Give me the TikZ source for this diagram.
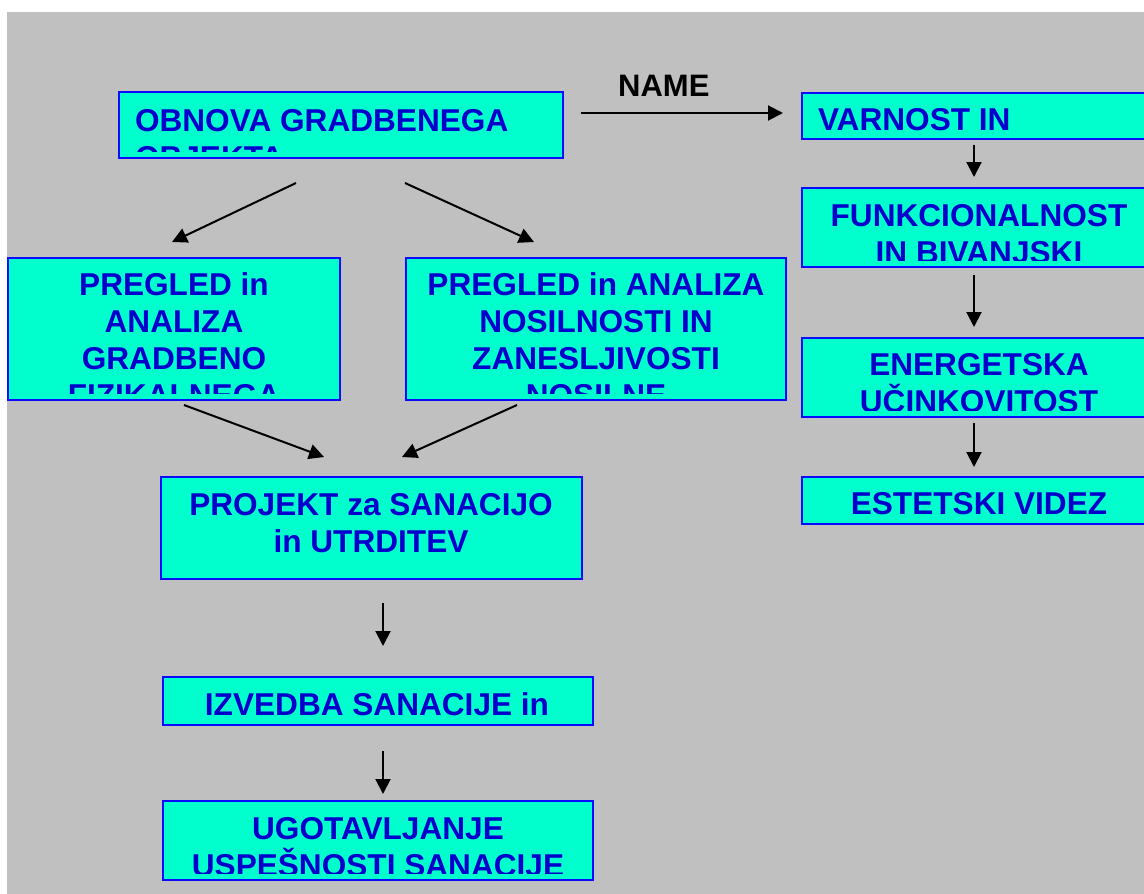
\documentclass[tikz,border=0pt]{standalone}
\usepackage{fontspec}
\setmainfont{Liberation Sans}
\usetikzlibrary{arrows.meta}
\definecolor{bg}{HTML}{C0C0C0}
\definecolor{boxfill}{HTML}{00FFCC}
\definecolor{boxline}{HTML}{0A0AFF}
\definecolor{txtblue}{HTML}{0000CC}
\newcommand\cln[1]{\hbox to 0pt{\hss#1\hss}}
\newcommand\lln[1]{\hbox to 0pt{#1\hss}}
\newcommand\lns[1]{\vtop{\baselineskip=37pt\lineskiplimit=-100pt\lineskip=0pt #1}}
\newcommand\mkbox[5]{\node[boxst, minimum width={(#4-#2)*1pt}, minimum height={(#5-#3)*1pt}] (#1) at ({(#2+#4)/2},{-(#3+#5)/2}) {};}
\newcommand\mktext[5]{\begin{scope}\clip ([shift={(2pt,-2pt)}]#1.north west) rectangle ([shift={(-2pt,7pt)}]#1.south east);
\node[txt] (#2) at (#3,-#4) {#5};
\end{scope}}
\begin{document}
\begin{tikzpicture}[x=1pt,y=1pt,
  boxst/.style={draw=boxline, fill=boxfill, line width=1.8pt, inner sep=0pt, rectangle},
  txt/.style={inner sep=0pt, anchor=base, text=txtblue, font=\fontsize{31.6}{37}\selectfont\bfseries},
  arr/.style={line width=2pt, -{Triangle[length=15pt,width=15pt]}},
  lbl/.style={font=\fontsize{31}{36}\selectfont\bfseries, text=black, inner sep=0pt, anchor=base}]
\useasboundingbox (0,0) rectangle (1144,-894);
\clip (0,0) rectangle (1144,-894);
\fill[white] (0,0) rectangle (1144,-894);
\fill[bg] (7,-12) rectangle (1144,-894);

% boxes
\mkbox{b1}{119}{92}{563}{158}
\mkbox{b2}{802}{93}{1160}{139}
\mkbox{b3}{802}{188}{1156}{267}
\mkbox{b4}{802}{338}{1156}{417}
\mkbox{b5}{802}{477}{1156}{524}
\mkbox{b6}{8}{258}{340}{400}
\mkbox{b7}{406}{258}{786}{400}
\mkbox{b8}{161}{477}{582}{579}
\mkbox{b9}{163}{677}{593}{725}
\mkbox{b10}{163}{801}{593}{880}

% texts
\mktext{b1}{t1}{135}{131}{\lns{\lln{OBNOVA GRADBENEGA}\lln{OBJEKTA}}}
\mktext{b2}{t2}{818}{130}{\lns{\lln{VARNOST IN}}}
\mktext{b3}{t3}{979}{226}{\lns{\cln{FUNKCIONALNOST}\cln{IN BIVANJSKI}}}
\mktext{b4}{t4}{979}{375}{\lns{\cln{ENERGETSKA}\cln{UČINKOVITOST}}}
\mktext{b5}{t5}{979}{514}{\lns{\cln{ESTETSKI VIDEZ}}}
\mktext{b6}{t6}{174}{295}{\lns{\cln{PREGLED in}\cln{ANALIZA}\cln{GRADBENO}\cln{FIZIKALNEGA}}}
\mktext{b7}{t7}{596}{295}{\lns{\cln{PREGLED in ANALIZA}\cln{NOSILNOSTI IN}\cln{ZANESLJIVOSTI}\cln{NOSILNE}}}
\mktext{b8}{t8}{371}{515}{\lns{\cln{PROJEKT za SANACIJO}\cln{in UTRDITEV}}}
\mktext{b9}{t9}{377}{715}{\lns{\cln{IZVEDBA SANACIJE in}}}
\mktext{b10}{t10}{378}{839}{\lns{\cln{UGOTAVLJANJE}\cln{USPEŠNOSTI SANACIJE}}}

% connector end points
\coordinate (n0) at (581,-113); \coordinate (n1) at (783,-113);
\coordinate (a1s) at (296,-183); \coordinate (a1e) at (172,-242);
\coordinate (a2s) at (405,-183); \coordinate (a2e) at (534,-242);
\coordinate (a3s) at (184,-405); \coordinate (a3e) at (324,-457);
\coordinate (a4s) at (517,-405); \coordinate (a4e) at (402,-457);
\coordinate (a5s) at (383,-603); \coordinate (a5e) at (383,-646);
\coordinate (a6s) at (383,-751); \coordinate (a6e) at (383,-794);
\coordinate (a7s) at (974,-145); \coordinate (a7e) at (974,-177);
\coordinate (a8s) at (974,-275); \coordinate (a8e) at (974,-327);
\coordinate (a9s) at (974,-423); \coordinate (a9e) at (974,-467);

\draw[arr] (n0) -- node[lbl, pos=0.41, yshift=17pt] (name) {NAME} (n1);
\draw[arr] (a1s) -- (a1e);
\draw[arr] (a2s) -- (a2e);
\draw[arr] (a3s) -- (a3e);
\draw[arr] (a4s) -- (a4e);
\draw[arr] (a5s) -- (a5e);
\draw[arr] (a6s) -- (a6e);
\draw[arr] (a7s) -- (a7e);
\draw[arr] (a8s) -- (a8e);
\draw[arr] (a9s) -- (a9e);
\end{tikzpicture}
\end{document}
